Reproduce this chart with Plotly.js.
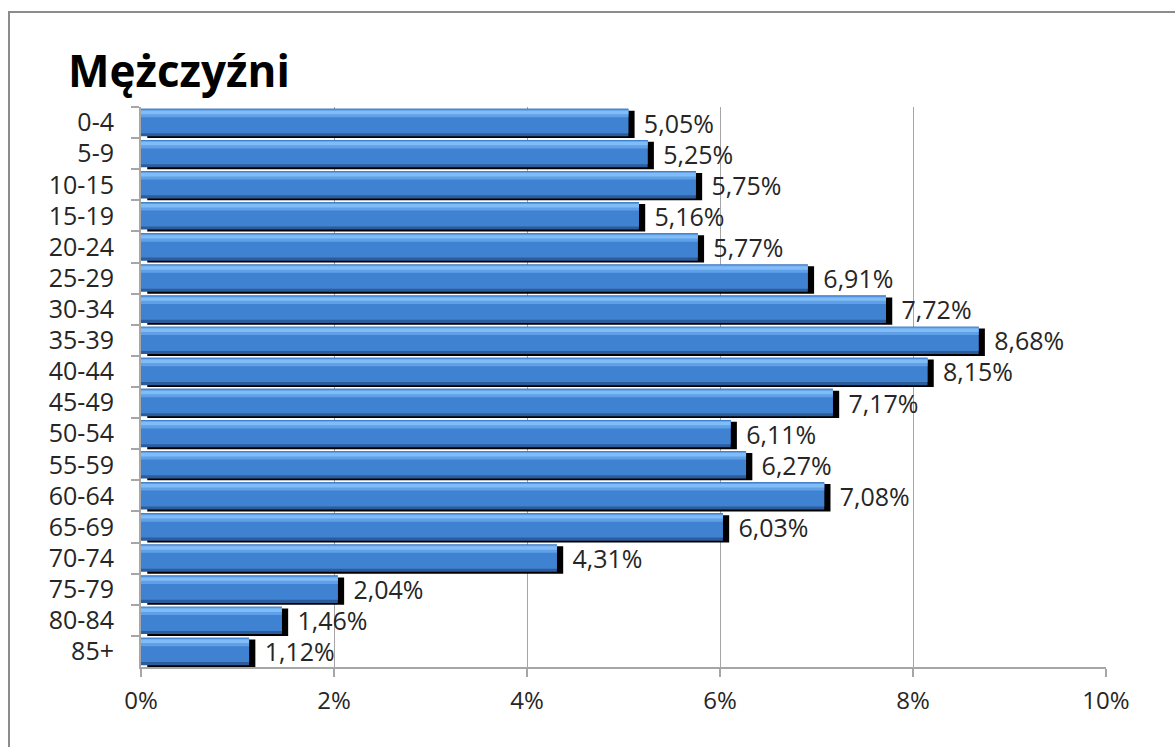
<!DOCTYPE html>
<html>
<head>
<meta charset="utf-8">
<script src="https://cdn.plot.ly/plotly-3.0.1.min.js"></script>
<style>
  html, body { margin: 0; padding: 0; background: #fff; }
  #wrap { position: relative; width: 1175px; height: 747px; }
  #chart { width: 1175px; height: 747px; }
  #frame { position: absolute; left: 8px; top: 11px; width: 1180px; height: 760px;
           border: 2px solid #8c8c8c; pointer-events: none; }
</style>
</head>
<body>
<div id="wrap">
  <div id="chart"></div>
  <div id="frame"></div>
</div>
<script>
const categories = ["0-4","5-9","10-15","15-19","20-24","25-29","30-34","35-39","40-44","45-49",
                    "50-54","55-59","60-64","65-69","70-74","75-79","80-84","85+"];
const values = [5.05,5.25,5.75,5.16,5.77,6.91,7.72,8.68,8.15,7.17,6.11,6.27,7.08,6.03,4.31,2.04,1.46,1.12];
const xTickVals = [0,2,4,6,8,10];
const titleText = "Mężczyźni";

const FONT = "'Open Sans', sans-serif";
const W = 0.88;
const top0 = -W/2;

function layer(width, offset, color, base) {
  const t = {
    type: 'bar', orientation: 'h', y: categories, x: values,
    width: width, offset: offset,
    marker: { color: color, line: { width: 0 } },
    hoverinfo: 'skip', showlegend: false
  };
  if (base !== undefined) t.base = base;
  return t;
}

const shadow = layer(W, top0 + 0.06, '#000000', 0.065);
const bottomDark = layer(W, top0, '#2c5c9c');
const mainBody = layer(W - 0.1, top0, '#4082d2');
const lightBand = layer(0.24, top0 + 0.03, '#5fa0e8');
const brightBand = layer(0.11, top0 + 0.06, '#80bdf6');
const labels = {
  type: 'bar', orientation: 'h', y: categories, x: values,
  base: 0.13, width: W, offset: top0,
  marker: { color: 'rgba(0,0,0,0)', line: { width: 0 } },
  text: values, texttemplate: '%{x:.2f}%', textposition: 'outside',
  constraintext: 'none', cliponaxis: false,
  textfont: { family: FONT, size: 25, color: '#262626' },
  hoverinfo: 'skip', showlegend: false
};

const layout = {
  width: 1175, height: 747,
  margin: { l: 141, r: 69, t: 107, b: 80, pad: 0 },
  paper_bgcolor: '#ffffff', plot_bgcolor: '#ffffff',
  separators: ', ',
  barmode: 'overlay',
  showlegend: false,
  title: {
    text: '<b>' + titleText + '</b>',
    font: { family: FONT, size: 44, color: '#000000' },
    xref: 'container', yref: 'container',
    x: 68/1175, xanchor: 'left',
    y: 1 - 72/747, yanchor: 'middle'
  },
  xaxis: {
    range: [0, 10], tickvals: xTickVals, ticktext: xTickVals.map(v => v + '%'),
    showgrid: true, gridcolor: '#a6a6a6', gridwidth: 1,
    zeroline: false, showline: true, linecolor: '#a6a6a6', linewidth: 2,
    ticks: 'outside', ticklen: 8, tickcolor: '#a6a6a6', tickwidth: 2,
    ticklabelstandoff: 3,
    tickfont: { family: FONT, size: 24, color: '#262626' },
    fixedrange: true
  },
  yaxis: {
    type: 'category', autorange: 'reversed',
    showgrid: false, zeroline: false, showline: true, linecolor: '#a6a6a6', linewidth: 2,
    ticks: 'outside', tickson: 'boundaries', ticklen: 8, tickcolor: '#a6a6a6', tickwidth: 2,
    ticklabelstandoff: 20,
    tickfont: { family: FONT, size: 25, color: '#262626' },
    fixedrange: true
  }
};

Plotly.newPlot('chart', [shadow, bottomDark, mainBody, lightBand, brightBand, labels], layout,
  { displayModeBar: false, staticPlot: true });
</script>
</body>
</html>
